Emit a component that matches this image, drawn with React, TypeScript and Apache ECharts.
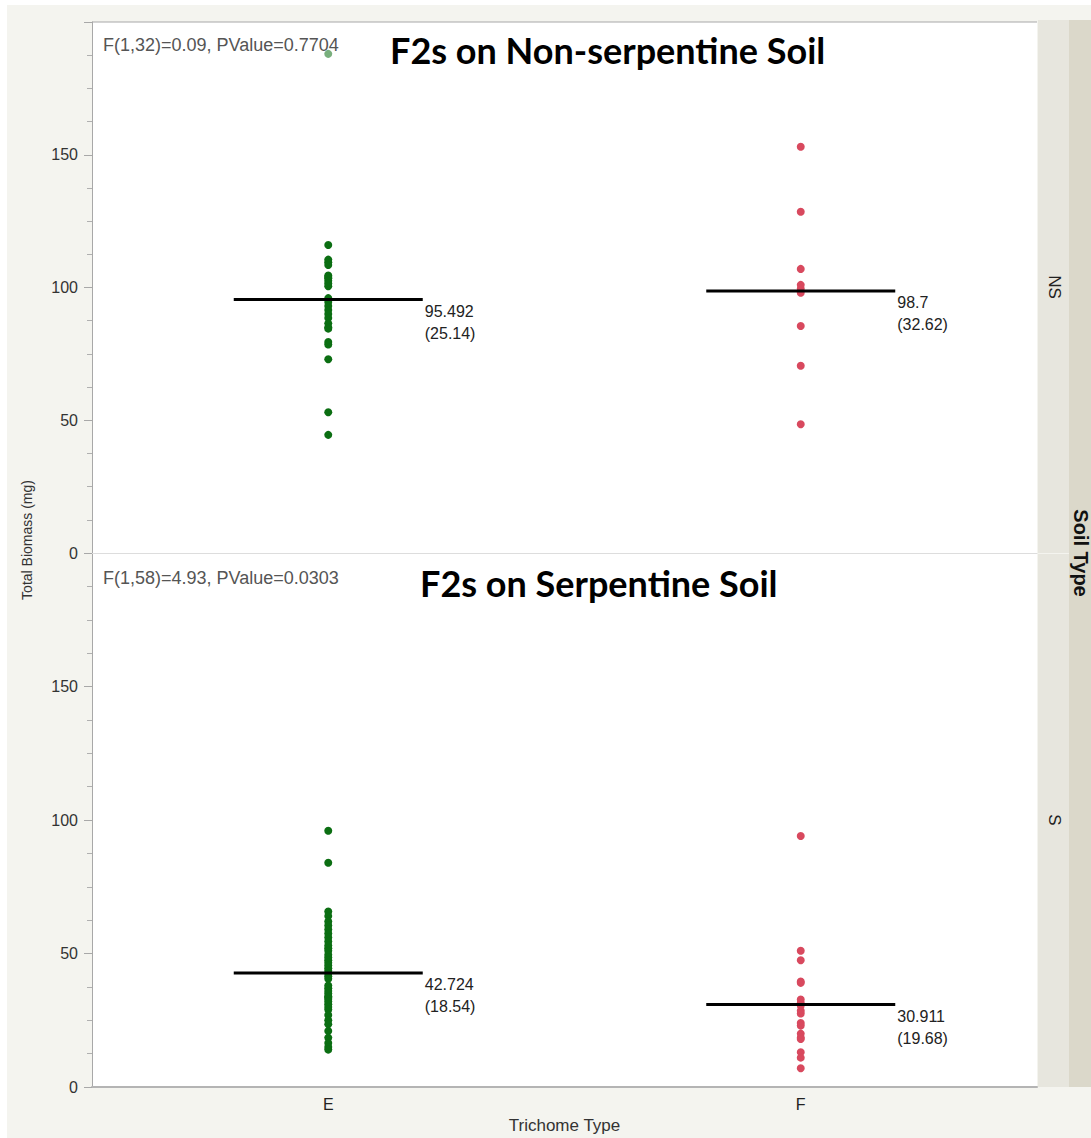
import React, { useEffect, useRef } from 'react';
import * as echarts from 'echarts';

const categories = ['E', 'F'];

// Non-serpentine soil (NS)
const nsE = [188, 116, 110.5, 109.5, 108.5, 104.5, 104, 103.5, 102.5, 101.5, 100.5, 96, 94.5, 93, 91.5, 90, 88.5, 86.5, 85, 84.5, 79.5, 78.5, 73, 53, 44.5];
const nsF = [153, 128.5, 107, 101, 99.5, 98, 85.5, 70.5, 48.5];
const nsMeans = [95.492, 98.7];
const nsSD = ['25.14', '32.62'];

// Serpentine soil (S)
const sE = [96, 84, 65.7, 64, 62, 60.5, 59, 57.5, 56, 54.5, 53, 52, 51, 49.5, 48.5, 47.5, 46.5, 45.5, 44.5, 43.5, 42.5, 41.5, 40.5, 38, 37, 36, 35, 34, 33.5, 33, 32, 31, 30, 29, 27, 25, 23.5, 21, 18.5, 16.5, 15, 14];
const sF = [94, 51, 47.5, 39.5, 39, 32.8, 31.5, 30.5, 28.6, 27.5, 24, 23, 20, 18.5, 18, 13, 11, 7];
const sMeans = [42.724, 30.911];
const sSD = ['18.54', '19.68'];

const nsStats = 'F(1,32)=0.09, PValue=0.7704';
const sStats = 'F(1,58)=4.93, PValue=0.0303';
const nsTitle = 'F2s on Non-serpentine Soil';
const sTitle = 'F2s on Serpentine Soil';
const hiddenYLabels = [200];

const GREEN = '#0b6e12';
const RED = '#d8495e';
const SANS = '"Liberation Sans", Arial, sans-serif';

function meanSeries(idx: number, means: number[], sds: string[]) {
  return {
    type: 'custom',
    xAxisIndex: idx,
    yAxisIndex: idx,
    z: 5,
    encode: { x: 0, y: 1 },
    data: means.map((m, i) => [i, m]),
    renderItem: (params: any, api: any) => {
      const c = api.coord([api.value(0), api.value(1)]);
      const bw = api.size([1, 0])[0];
      const half = bw * 0.2;
      const i = params.dataIndex;
      return {
        type: 'group',
        children: [
          {
            type: 'line',
            shape: { x1: c[0] - half, y1: c[1], x2: c[0] + half, y2: c[1] },
            style: { stroke: '#000', lineWidth: 3 },
          },
          {
            type: 'text',
            x: c[0] + half + 2,
            y: c[1] + 12,
            style: { text: String(means[i]), fill: '#222', font: `16px ${SANS}`, textAlign: 'left', textVerticalAlign: 'middle' },
          },
          {
            type: 'text',
            x: c[0] + half + 2,
            y: c[1] + 34,
            style: { text: `(${sds[i]})`, fill: '#222', font: `16px ${SANS}`, textAlign: 'left', textVerticalAlign: 'middle' },
          },
        ],
      };
    },
  };
}

function pts(vals: number[], cat: number, color: string) {
  return vals.map((v) =>
    v > 180
      ? { value: [cat, v], itemStyle: { color, opacity: 0.55 } }
      : { value: [cat, v] }
  );
}

export default function App() {
  const ref = useRef<HTMLDivElement>(null);
  useEffect(() => {
    document.body.style.margin = '0';
    const chart = echarts.init(ref.current!, null, { renderer: 'svg' });
    const yAxisBase = {
      type: 'value',
      min: 0,
      max: 200,
      interval: 50,
      axisLine: { show: true, lineStyle: { color: '#a8a8a8', width: 1 } },
      axisTick: { show: true, length: 8, lineStyle: { color: '#a8a8a8' } },
      minorTick: { show: true, splitNumber: 4, length: 5, lineStyle: { color: '#b0b0b0' } },
      splitLine: { show: false },
      axisLabel: {
        color: '#333',
        fontSize: 16,
        fontFamily: SANS,
        margin: 14,
        formatter: (v: number) => (hiddenYLabels.includes(v) ? '' : String(v)),
      },
    };
    const option: any = {
      animation: false,
      backgroundColor: '#ffffff',
      grid: [
        { left: 92, top: 22, width: 945, height: 531, show: true, backgroundColor: '#fff', borderWidth: 0 },
        { left: 92, top: 553, width: 945, height: 534, show: true, backgroundColor: '#fff', borderWidth: 0 },
      ],
      xAxis: [
        {
          type: 'category',
          gridIndex: 0,
          data: categories,
          axisLine: { show: true, lineStyle: { color: '#dddddd', width: 1 } },
          axisTick: { show: false },
          axisLabel: { show: false },
        },
        {
          type: 'category',
          gridIndex: 1,
          data: categories,
          name: 'Trichome Type',
          nameLocation: 'middle',
          nameGap: 30,
          nameTextStyle: { color: '#333', fontSize: 17, fontFamily: SANS },
          axisLine: { show: true, lineStyle: { color: '#b4b4b4', width: 2 } },
          axisTick: { show: false },
          axisLabel: { color: '#222', fontSize: 16, fontFamily: SANS, margin: 9 },
        },
      ],
      yAxis: [
        { ...yAxisBase, gridIndex: 0 },
        { ...yAxisBase, gridIndex: 1 },
      ],
      series: [
        { type: 'scatter', xAxisIndex: 0, yAxisIndex: 0, symbolSize: 8, itemStyle: { color: GREEN, opacity: 1 }, data: pts(nsE, 0, GREEN) },
        { type: 'scatter', xAxisIndex: 0, yAxisIndex: 0, symbolSize: 8, itemStyle: { color: RED, opacity: 1 }, data: pts(nsF, 1, RED) },
        { type: 'scatter', xAxisIndex: 1, yAxisIndex: 1, symbolSize: 8, itemStyle: { color: GREEN, opacity: 1 }, data: pts(sE, 0, GREEN) },
        { type: 'scatter', xAxisIndex: 1, yAxisIndex: 1, symbolSize: 8, itemStyle: { color: RED, opacity: 1 }, data: pts(sF, 1, RED) },
        meanSeries(0, nsMeans, nsSD),
        meanSeries(1, sMeans, sSD),
      ],
      graphic: [
        { type: 'rect', z: -10, silent: true, shape: { x: 7, y: 5, width: 1084, height: 1133 }, style: { fill: '#f4f4ef' } },
        { type: 'rect', z: -5, shape: { x: 1038, y: 20, width: 31, height: 533 }, style: { fill: '#e7e6de' } },
        { type: 'rect', z: -5, shape: { x: 1038, y: 554, width: 31, height: 533 }, style: { fill: '#e7e6de' } },
        { type: 'rect', z: -5, shape: { x: 1069, y: 20, width: 22, height: 1067 }, style: { fill: '#dbd8ca' } },
        { type: 'line', z: 10, shape: { x1: 92, y1: 22, x2: 1037, y2: 22 }, style: { stroke: '#a8a8a8', lineWidth: 1 } },
        { type: 'text', z: 10, x: 1054, y: 287, rotation: -Math.PI / 2, style: { text: 'NS', fill: '#222', font: `17px ${SANS}`, textAlign: 'center', textVerticalAlign: 'middle' } },
        { type: 'text', z: 10, x: 1054, y: 820, rotation: -Math.PI / 2, style: { text: 'S', fill: '#222', font: `17px ${SANS}`, textAlign: 'center', textVerticalAlign: 'middle' } },
        { type: 'text', z: 10, x: 1081, y: 553, rotation: -Math.PI / 2, style: { text: 'Soil Type', fill: '#111', font: `bold 20px ${SANS}`, textAlign: 'center', textVerticalAlign: 'middle' } },
        { type: 'text', z: 10, x: 27, y: 540, rotation: Math.PI / 2, style: { text: 'Total Biomass (mg)', fill: '#333', font: `14px ${SANS}`, textAlign: 'center', textVerticalAlign: 'middle' } },
        { type: 'text', z: 1, x: 103, y: 45, style: { text: nsStats, fill: '#555', font: `18px ${SANS}`, textAlign: 'left', textVerticalAlign: 'middle' } },
        { type: 'text', z: 1, x: 103, y: 578, style: { text: sStats, fill: '#555', font: `18px ${SANS}`, textAlign: 'left', textVerticalAlign: 'middle' } },
        { type: 'text', z: 10, x: 390, y: 50, style: { text: nsTitle, fill: '#000', font: `bold 36px Lato, "Open Sans", sans-serif`, textAlign: 'left', textVerticalAlign: 'middle' } },
        { type: 'text', z: 10, x: 420, y: 583, style: { text: sTitle, fill: '#000', font: `bold 36px Lato, "Open Sans", sans-serif`, textAlign: 'left', textVerticalAlign: 'middle' } },
      ],
    };
    chart.setOption(option);
    return () => chart.dispose();
  }, []);
  return <div ref={ref} style={{ width: 1091, height: 1138 }} />;
}
